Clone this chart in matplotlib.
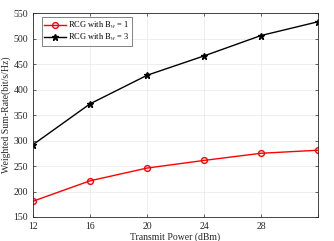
import matplotlib
matplotlib.use('Agg')
import matplotlib.pyplot as plt

# Transmit power (dBm) and weighted sum-rate values
power = [12, 16, 20, 24, 28, 32]
rate_bw1 = [181, 221, 246, 261, 275, 281]
rate_bw3 = [292, 372, 428, 466, 506, 533]

plt.rcParams['font.family'] = ['Liberation Serif', 'DejaVu Serif']
plt.rcParams['mathtext.fontset'] = 'stix'

fig = plt.figure(figsize=(3.34, 2.41), dpi=100)
ax = fig.add_axes([0.099, 0.0996, 0.853, 0.846])

ax.plot(power, rate_bw1, color='red', marker='o', markersize=4.2, markerfacecolor='none',
        markeredgewidth=1.0, linewidth=1.0, label=r'RCG with B$_w$ = 1')
ax.plot(power, rate_bw3, color='black', marker='*', markersize=4.5, linewidth=1.0,
        label=r'RCG with B$_w$ = 3')

ax.set_xlim(12, 32)
ax.set_ylim(150, 550)
ax.set_xticks([12, 16, 20, 24, 28, 32])
ax.set_xticklabels(['12', '16', '20', '24', '28', ''])
ax.set_yticks(range(150, 551, 50))
ax.tick_params(labelsize=7, direction='in', length=2, width=0.5, colors='#262626',
               top=True, right=True)
ax.grid(True, color='#ebebeb', linewidth=0.6)
for s in ax.spines.values():
    s.set_linewidth(0.6)
    s.set_color('#262626')

ax.set_xlabel('Transmit Power (dBm)', fontsize=7, labelpad=1, color='#262626')
ax.set_ylabel('Weighted Sum-Rate(bit/s/Hz)', fontsize=7, labelpad=2, color='#262626')

leg = ax.legend(loc='upper left', fontsize=6, frameon=True, fancybox=False,
                edgecolor='#262626', borderpad=0.3, handlelength=2.6,
                handletextpad=0.3, labelspacing=0.15, borderaxespad=0,
                bbox_to_anchor=(0.03, 0.98))
leg.get_frame().set_linewidth(0.5)

fig.savefig('out.png', dpi=100)
